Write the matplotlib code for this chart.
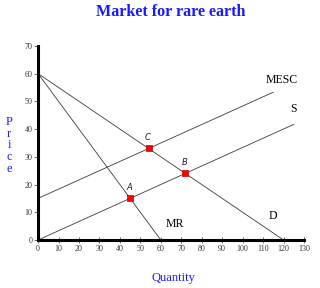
import numpy as np
import matplotlib.pyplot as plt

# demand, marginal revenue, supply and marginal external social cost lines
q_demand = [0, 120]
p_demand = [60, 0]
q_mr = [0, 60]
p_mr = [60, 0]
q_supply = [0, 125]
p_supply = [0, 41.7]
q_mesc = [0, 115]
p_mesc = [15, 53.3]

# marked points
pt_labels = ['A', 'B', 'C']
pt_q = [45, 72, 54]
pt_p = [15, 24, 33]

fig = plt.figure(figsize=(3.2, 2.88), dpi=100)
ax = fig.add_axes([0.119, 0.1667, 0.831, 0.674])

line_kw = dict(color='#3a3a3a', linewidth=0.6)
ax.plot(q_demand, p_demand, **line_kw)
ax.plot(q_mr, p_mr, **line_kw)
ax.plot(q_supply, p_supply, **line_kw)
ax.plot(q_mesc, p_mesc, **line_kw)

ax.scatter(pt_q, pt_p, marker='s', s=22, color='#ff0000', edgecolors='#cc0000',
           linewidths=0.5, zorder=5)
for lab, q, p in zip(pt_labels, pt_q, pt_p):
    ax.text(q - 0.5, p + 2.2, lab, fontsize=6, style='italic', color='#1a1a40',
            ha='center', va='bottom', family='DejaVu Sans')

serif = 'Liberation Serif'
ax.text(119, 55.5, 'MESC', fontsize=8.5, family=serif, ha='center', va='bottom')
ax.text(125, 45, 'S', fontsize=8.5, family=serif, ha='center', va='bottom')
ax.text(115, 6.5, 'D', fontsize=8.5, family=serif, ha='center', va='bottom')
ax.text(67, 3.5, 'MR', fontsize=8.5, family=serif, ha='center', va='bottom')

ax.set_xlim(0, 130)
ax.set_ylim(0, 70)
ax.set_xticks(np.arange(0, 131, 10))
ax.set_yticks(np.arange(0, 71, 10))

for s in ['top', 'right']:
    ax.spines[s].set_visible(False)
for s in ['left', 'bottom']:
    ax.spines[s].set_linewidth(2.2)
    ax.spines[s].set_color('black')

ax.tick_params(axis='x', direction='inout', length=5, width=0.6, color='#555555',
               labelsize=5.8, labelcolor='#333333', pad=1)
ax.tick_params(axis='y', direction='out', length=3, width=0.6, color='#555555',
               labelsize=5.8, labelcolor='#333333', pad=1)
for t in ax.get_xticklabels() + ax.get_yticklabels():
    t.set_family(serif)

fig.text(0.534, 0.958, 'Market for rare earth', fontsize=11.6, fontweight='bold',
         family=serif, color='#1a1aff', ha='center', va='center')
fig.text(0.541, 0.035, 'Quantity', fontsize=9, family=serif, color='#1a1aff',
         ha='center', va='center')
fig.text(0.029, 0.495, 'P\nr\ni\nc\ne', fontsize=9, family=serif, color='#1a1aff',
         ha='center', va='center', linespacing=0.95)

fig.savefig('out.png', dpi=100)
